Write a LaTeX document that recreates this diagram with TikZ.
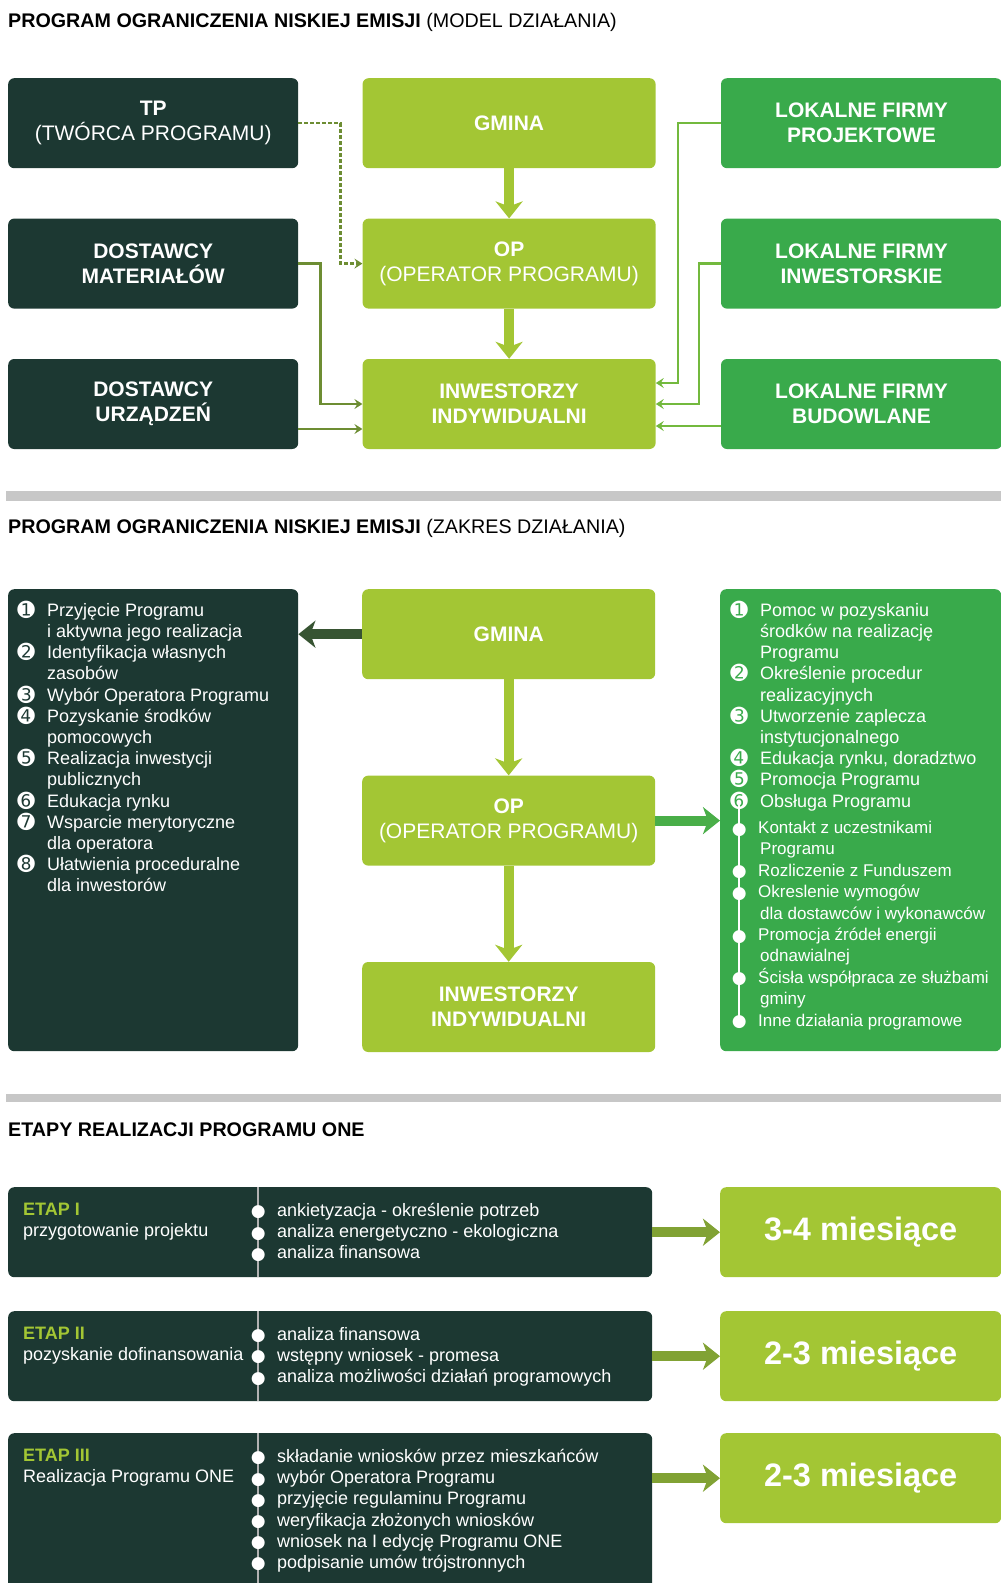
\documentclass[tikz,border=0pt]{standalone}
\usepackage{fontspec}
\setmainfont{Liberation Sans}
\newfontfamily\dingfont{DejaVu Sans}
\usetikzlibrary{arrows.meta,positioning}
\definecolor{PineDark}{RGB}{28,56,50}
\definecolor{LimeGreen}{RGB}{163,198,52}
\definecolor{FirmGreen}{RGB}{57,170,75}
\newcommand\nm[1]{\makebox[0pt]{\smash{\raisebox{-1pt}{\fontsize{21}{21}\dingfont #1}}}\hspace{21pt}}
\newcommand\bl{\makebox[0pt]{\smash{\raisebox{-0.5pt}{\fontsize{17}{17}\dingfont ●}}}\hspace{19pt}}
\newcommand\ind{\hspace*{21pt}}

\begin{document}
\begin{tikzpicture}[x=1pt, y=-1pt,
    font=\fontsize{21}{25}\selectfont, node distance=50pt and 64pt,
    blk/.style={rounded corners=6pt, minimum height=90pt, inner sep=0pt,
                align=center, text=white},
    dk/.style={blk, fill=PineDark, minimum width=290pt},
    lm/.style={blk, fill=LimeGreen, minimum width=293pt},
    fg/.style={blk, fill=FirmGreen, minimum width=281pt},
    ttl/.style={anchor=base west, inner sep=0pt, font=\fontsize{19.7}{22}\selectfont},
    band/.style={fill=black!22},
    wire/.style={line width=2.5pt, -{Stealth[length=8pt,width=10pt,inset=3pt]}},
    fat/.style={line width=10pt, -{Stealth[length=17pt,width=27pt,inset=5pt]}},
    lst/.style={anchor=north west, inner sep=0pt, align=left, text=white,
                font=\fontsize{18}{21.2}\selectfont},
    divl/.style={white!70!black, line width=1.5pt}
  ]
  \useasboundingbox (0,0) rectangle (1001,1583);

  % model dzialania
  \node[ttl] (t1) at (8,27) {\textbf{PROGRAM OGRANICZENIA NISKIEJ EMISJI} (MODEL DZIAŁANIA)};
  \node[dk, anchor=north west] (tp) at (8,78) {\textbf{TP}\\(TWÓRCA PROGRAMU)};
  \node[lm, right=of tp] (gmina) {\textbf{GMINA}};
  \node[fg, right=65pt of gmina] (lfp) {\textbf{LOKALNE FIRMY}\\\textbf{PROJEKTOWE}};
  \node[dk, below=of tp] (dm) {\textbf{DOSTAWCY}\\\textbf{MATERIAŁÓW}};
  \node[lm, below=of gmina] (op) {\textbf{OP}\\(OPERATOR PROGRAMU)};
  \node[fg, below=of lfp] (lfi) {\textbf{LOKALNE FIRMY}\\\textbf{INWESTORSKIE}};
  \node[dk, below=of dm] (du) {\textbf{DOSTAWCY}\\\textbf{URZĄDZEŃ}};
  \node[lm, below=of op] (inw) {\textbf{INWESTORZY}\\\textbf{INDYWIDUALNI}};
  \node[fg, below=of lfi] (lfb) {\textbf{LOKALNE FIRMY}\\\textbf{BUDOWLANE}};

  \draw[fat, LimeGreen] (gmina) -- (op);
  \draw[fat, LimeGreen] (op) -- (inw);
  \draw[wire, LimeGreen!60!PineDark, dash pattern=on 4pt off 2pt] (tp.east) -- ++(42,0) |- (op.west);
  \draw[wire, LimeGreen!60!PineDark] (dm.east) -- ++(22,0) |- (inw.west);
  \draw[wire, LimeGreen!60!PineDark] ([yshift=-25pt]du.east) -- ([yshift=-25pt]inw.west);
  \draw[wire, LimeGreen!55!FirmGreen] (lfp.west) -- ++(-43,0) |- ([yshift=21pt]inw.east);
  \draw[wire, LimeGreen!55!FirmGreen] (lfi.west) -- ++(-22,0) |- (inw.east);
  \draw[wire, LimeGreen!55!FirmGreen] ([yshift=-22pt]lfb.west) -- ([yshift=-22pt]inw.east);

  % zakres dzialania
  \fill[band] (6,491) rectangle (1001,501);
  \node[ttl] (t2) at (8,533) {\textbf{PROGRAM OGRANICZENIA NISKIEJ EMISJI} (ZAKRES DZIAŁANIA)};
  \node[dk, anchor=north west, minimum height=462pt] (zgm) at (8,589) {};
  \node[lm, anchor=north west] (gmina2) at (362,589) {\textbf{GMINA}};
  \node[lm, below=96pt of gmina2] (op2) {\textbf{OP}\\(OPERATOR PROGRAMU)};
  \node[lm, below=96pt of op2] (inw2) {\textbf{INWESTORZY}\\\textbf{INDYWIDUALNI}};
  \node[fg, anchor=north west, minimum height=462pt] (zop) at (720,589) {};

  \draw[fat, PineDark!80!LimeGreen] (gmina2.west) -- (gmina2.west -| zgm.east);
  \draw[fat, LimeGreen] (gmina2) -- (op2);
  \draw[fat, LimeGreen] (op2) -- (inw2);
  \draw[fat, FirmGreen!85!LimeGreen] (op2.east) -- (op2.east -| zop.west);

  \node[lst, below right=14pt and 18pt of zgm.north west] (lgm) {%
    \nm{➊}Przyjęcie Programu\\
    \ind i aktywna jego realizacja\\
    \nm{➋}Identyfikacja własnych\\
    \ind zasobów\\
    \nm{➌}Wybór Operatora Programu\\
    \nm{➍}Pozyskanie środków\\
    \ind pomocowych\\
    \nm{➎}Realizacja inwestycji\\
    \ind publicznych\\
    \nm{➏}Edukacja rynku\\
    \nm{➐}Wsparcie merytoryczne\\
    \ind dla operatora\\
    \nm{➑}Ułatwienia proceduralne\\
    \ind dla inwestorów};
  \draw[white, line width=1.5pt] (739,800) -- (739,1021);
  \node[lst, below right=14pt and 19pt of zop.north west] (lop) {%
    \nm{➊}Pomoc w pozyskaniu\\
    \ind środków na realizację\\
    \ind Programu\\
    \nm{➋}Określenie procedur\\
    \ind realizacyjnych\\
    \nm{➌}Utworzenie zaplecza\\
    \ind instytucjonalnego\\
    \nm{➍}Edukacja rynku, doradztwo\\
    \nm{➎}Promocja Programu\\
    \nm{➏}Obsługa Programu};
  \node[lst, font=\fontsize{17}{21.4}\selectfont, below right=232pt and 19pt of zop.north west] (lsub) {%
    \bl Kontakt z uczestnikami\\
    \ind Programu\\
    \bl Rozliczenie z Funduszem\\
    \bl Okreslenie wymogów\\
    \ind dla dostawców i wykonawców\\
    \bl Promocja źródeł energii\\
    \ind odnawialnej\\
    \bl Ścisła współpraca ze służbami\\
    \ind gminy\\
    \bl Inne działania programowe};

  % etapy
  \fill[band] (6,1094) rectangle (1001,1102);
  \node[ttl] (t3) at (8,1136) {\textbf{ETAPY REALIZACJI PROGRAMU ONE}};
  \node[dk, anchor=north west, minimum width=644pt] (etap1) at (8,1187) {};
  \node[dk, anchor=north west, minimum width=644pt] (etap2) at (8,1311) {};
  \node[dk, anchor=north west, minimum width=644pt, minimum height=170pt] (etap3) at (8,1433) {};
  \node[lm, anchor=north west, minimum width=281pt, font=\fontsize{32.5}{36}\selectfont] (czas1) at (720,1187) {\textbf{3-4 miesiące}};
  \node[lm, anchor=north west, minimum width=281pt, font=\fontsize{32.5}{36}\selectfont] (czas2) at (720,1311) {\textbf{2-3 miesiące}};
  \node[lm, anchor=north west, minimum width=281pt, font=\fontsize{32.5}{36}\selectfont] (czas3) at (720,1433) {\textbf{2-3 miesiące}};

  \foreach \e in {etap1,etap2,etap3}
    \draw[divl] ([xshift=250pt]\e.north west) -- ([xshift=250pt]\e.south west);

  \node[lst, below right=16pt and 15pt of etap1.north west] (n1) {\textbf{\color{LimeGreen}ETAP I}\\przygotowanie projektu};
  \node[lst, below right=16pt and 250pt of etap1.north west] (d1) {%
    \bl ankietyzacja - określenie potrzeb\\
    \bl analiza energetyczno - ekologiczna\\
    \bl analiza finansowa};
  \node[lst, below right=16pt and 15pt of etap2.north west] (n2) {\textbf{\color{LimeGreen}ETAP II}\\pozyskanie dofinansowania};
  \node[lst, below right=16pt and 250pt of etap2.north west] (d2) {%
    \bl analiza finansowa\\
    \bl wstępny wniosek - promesa\\
    \bl analiza możliwości działań programowych};
  \node[lst, below right=16pt and 15pt of etap3.north west] (n3) {\textbf{\color{LimeGreen}ETAP III}\\Realizacja Programu ONE};
  \node[lst, below right=16pt and 250pt of etap3.north west] (d3) {%
    \bl składanie wniosków przez mieszkańców\\
    \bl wybór Operatora Programu\\
    \bl przyjęcie regulaminu Programu\\
    \bl weryfikacja złożonych wniosków\\
    \bl wniosek na I edycję Programu ONE\\
    \bl podpisanie umów trójstronnych};

  \draw[fat, LimeGreen!75!PineDark] (etap1.east) -- (czas1.west);
  \draw[fat, LimeGreen!75!PineDark] (etap2.east) -- (czas2.west);
  \draw[fat, LimeGreen!75!PineDark] (etap3.east |- czas3.west) -- (czas3.west);
\end{tikzpicture}
\end{document}
